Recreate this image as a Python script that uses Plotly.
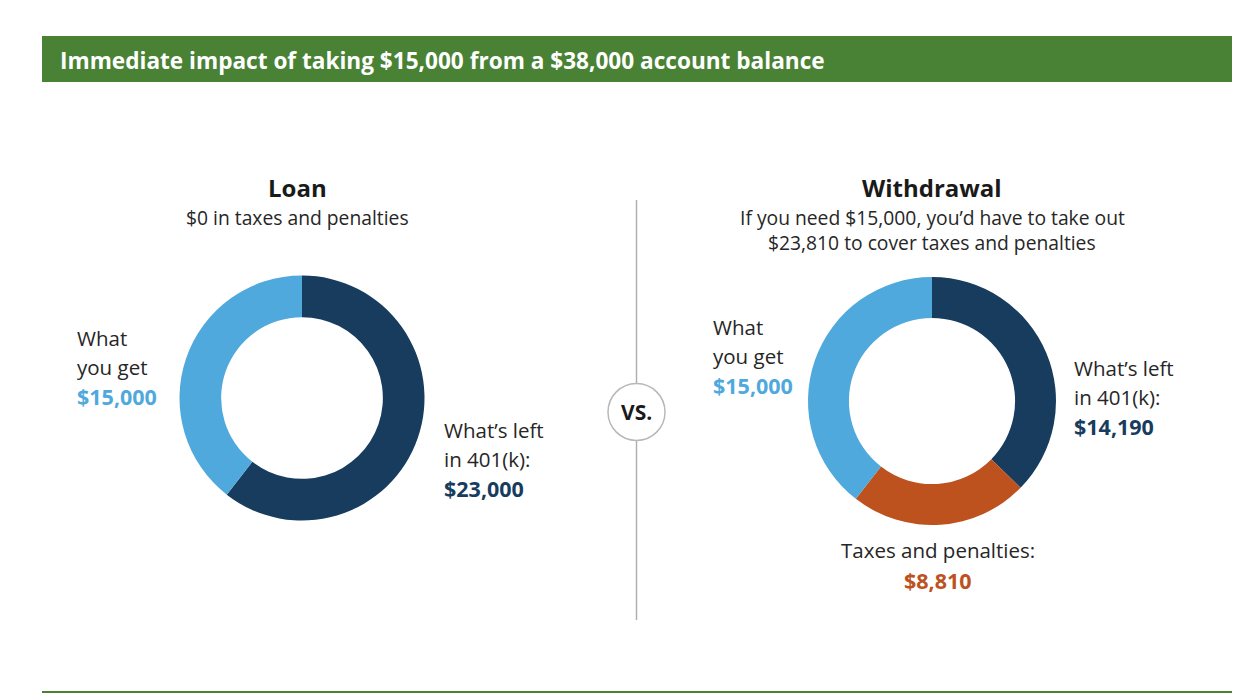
import plotly.graph_objects as go

W, H = 1242, 695
OFF = 8  # page body margin offset

# ---- data ----
loan_labels = ["What's left in 401(k)", "What you get"]
loan_values = [23000, 15000]
withdrawal_labels = ["What's left in 401(k)", "Taxes and penalties", "What you get"]
withdrawal_values = [14190, 8810, 15000]

NAVY = "#173c5e"
BLUE = "#4fa9dc"
ORANGE = "#bd521f"
GREEN = "#4a8235"
TEXT = "#262626"

loan_colors = [NAVY, BLUE]
withdrawal_colors = [NAVY, ORANGE, BLUE]

FONT = "Open Sans"


def px(x):
    return (x - OFF) / W


def py(y):
    return 1 - (y - OFF) / H


def dom(cx, cy, r):
    return dict(x=[px(cx - r), px(cx + r)], y=[py(cy + r), py(cy - r)])


fig = go.Figure()
fig.add_trace(go.Pie(
    labels=loan_labels, values=loan_values, sort=False, direction="clockwise",
    rotation=0, hole=0.66, textinfo="none", hoverinfo="label+value",
    marker=dict(colors=loan_colors, line=dict(width=0)),
    domain=dom(302, 398, 122.5), showlegend=False,
))
fig.add_trace(go.Pie(
    labels=withdrawal_labels, values=withdrawal_values, sort=False, direction="clockwise",
    rotation=0, hole=0.67, textinfo="none", hoverinfo="label+value",
    marker=dict(colors=withdrawal_colors, line=dict(width=0)),
    domain=dom(932, 401, 124), showlegend=False,
))

shapes = [
    dict(type="rect", xref="paper", yref="paper", x0=px(42), x1=px(1232), y0=py(82), y1=py(36),
         fillcolor=GREEN, line=dict(width=0), layer="below"),
    dict(type="line", xref="paper", yref="paper", x0=px(42), x1=px(1232), y0=py(692), y1=py(692),
         line=dict(color=GREEN, width=2)),
    dict(type="line", xref="paper", yref="paper", x0=px(636.5), x1=px(636.5), y0=py(200), y1=py(383.5),
         line=dict(color="#b0b0b0", width=1.5)),
    dict(type="line", xref="paper", yref="paper", x0=px(636.5), x1=px(636.5), y0=py(440.5), y1=py(620),
         line=dict(color="#b0b0b0", width=1.5)),
    dict(type="circle", xref="paper", yref="paper", x0=px(608), x1=px(665), y0=py(440.5), y1=py(383.5),
         line=dict(color="#b8b8b8", width=1.5), fillcolor="white"),
]


def ann(text, x, y, size=20.5, color=TEXT, bold=False, xanchor="left"):
    t = f"<b>{text}</b>" if bold else text
    return dict(text=t, x=px(x), y=py(y), xref="paper", yref="paper", showarrow=False,
                xanchor=xanchor, yanchor="middle", font=dict(family=FONT, size=size, color=color))


annotations = [
    ann("Immediate impact of taking $15,000 from a $38,000 account balance", 58, 60, size=22.6,
        color="white", bold=True),
    ann("Loan", 297, 187, size=24, bold=True, color="#1a1a1a", xanchor="center"),
    ann("$0 in taxes and penalties", 297, 217, size=19.3, xanchor="center"),
    ann("Withdrawal", 932, 187, size=24, bold=True, color="#1a1a1a", xanchor="center"),
    ann("If you need $15,000, you’d have to take out", 932, 217, size=19.3, xanchor="center"),
    ann("$23,810 to cover taxes and penalties", 932, 242, size=19.3, xanchor="center"),
    ann("VS.", 636.5, 412, size=21, bold=True, color="#1a1a1a", xanchor="center"),
    # loan labels
    ann("What", 75, 338),
    ann("you get", 75, 367),
    ann("$15,000", 75, 396, bold=True, color=BLUE, size=21.5),
    ann("What’s left", 442, 430),
    ann("in 401(k):", 442, 459),
    ann("$23,000", 442, 488, bold=True, color=NAVY, size=21.5),
    # withdrawal labels
    ann("What", 711, 327),
    ann("you get", 711, 356),
    ann("$15,000", 711, 385, bold=True, color=BLUE, size=21.5),
    ann("What’s left", 1072, 368),
    ann("in 401(k):", 1072, 397),
    ann("$14,190", 1072, 426, bold=True, color=NAVY, size=21.5),
    ann("Taxes and penalties:", 938, 550, xanchor="center"),
    ann("$8,810", 938, 580, bold=True, color=ORANGE, size=21.5, xanchor="center"),
]

fig.update_layout(
    width=W, height=H, margin=dict(l=0, r=0, t=0, b=0),
    paper_bgcolor="white", plot_bgcolor="white",
    shapes=shapes, annotations=annotations,
    font=dict(family=FONT, color=TEXT),
)

fig.write_html("out.html")
